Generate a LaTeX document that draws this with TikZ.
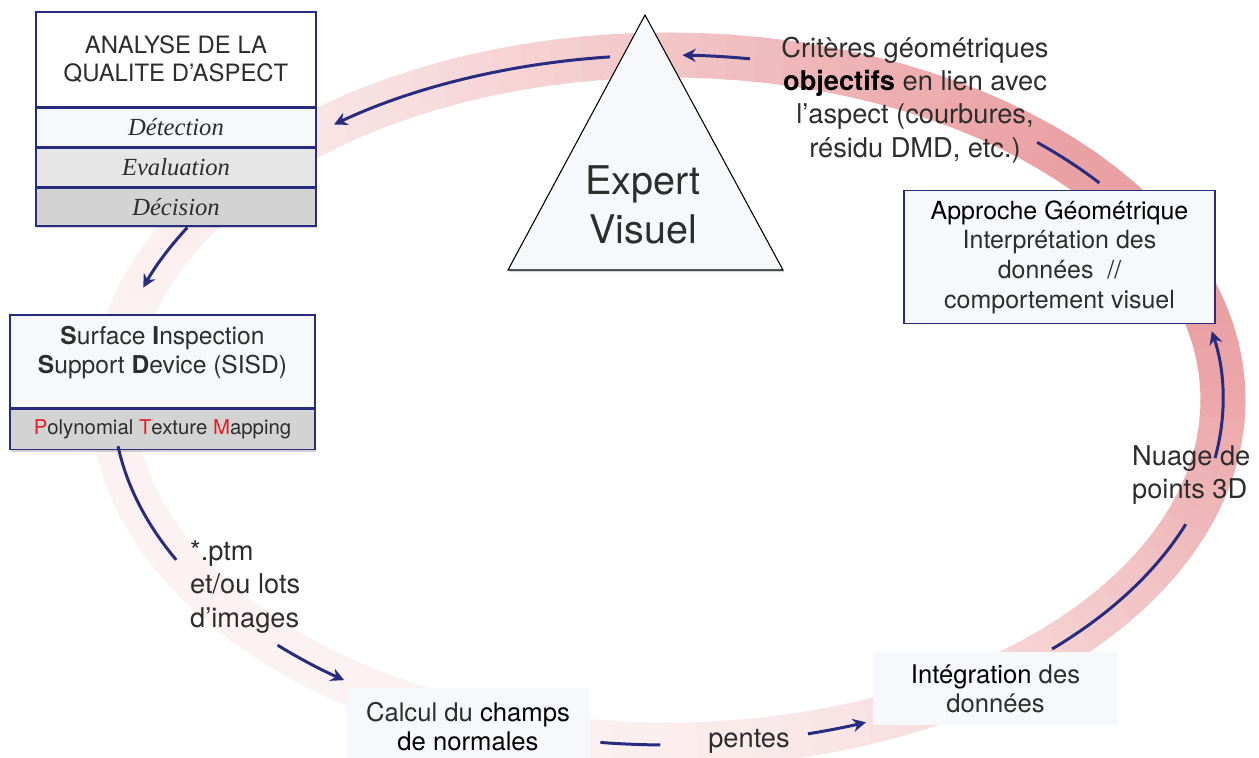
\documentclass[tikz,border=0pt]{standalone}
\usepackage{fontspec}
\setmainfont{TeX Gyre Heros}
\setsansfont{TeX Gyre Heros}
\newfontfamily\timesfont{Liberation Serif}
\usetikzlibrary{positioning,shadows,arrows.meta,calc}
\definecolor{navy}{RGB}{40,44,128}
\definecolor{ringred}{RGB}{214,70,76}
\definecolor{paleblue}{RGB}{247,248,252}
\definecolor{lightgrey}{RGB}{230,230,230}
\definecolor{midgrey}{RGB}{212,211,212}
\definecolor{ptmred}{RGB}{226,30,40}
\definecolor{inkgrey}{RGB}{45,45,45}

\begin{document}
\begin{tikzpicture}[x=0.02cm, y=-0.02cm,
declare function={
ringshade(\t)=7+46*((1+cos(\t+30))/2)^2;
},
panel/.style={draw=navy, line width=0.8pt, inner sep=0pt, align=center, text=inkgrey},
plainbox/.style={fill=paleblue, inner sep=0pt, align=center, text=inkgrey},
shadowed/.style={drop shadow={shadow xshift=0.6pt, shadow yshift=-1.2pt, opacity=0.35}},
note/.style={font=\fontsize{15.5}{19}\selectfont, text=inkgrey, align=center},
stepfont/.style={font=\timesfont\itshape\fontsize{14}{16}\selectfont},
ringarc/.style={x radius=555, y radius=345},
flow/.style={navy, line width=1.7pt, -{Stealth[length=7.5pt,width=7.5pt]}},
trail/.style={navy, line width=1.7pt},
]
\useasboundingbox (0,0) rectangle (1259,758);

% Draw the shaded ring (darker on the right, fading on the left)
\coordinate (ring) at (668,400);
\foreach \t in {0,3,...,357} {
\pgfmathtruncatemacro{\p}{ringshade(\t)}
\draw[ringred!\p!white, line width=0.9cm] ($(ring)+(\t:555 and 345)$) arc[start angle=\t, end angle=\t+3.6, ringarc];
}

% Analyse block with its three steps
\node[panel, fill=white, minimum width=5.6cm, minimum height=1.9cm, font=\fontsize{13.6}{16}\selectfont, shadowed] (analyse) at (176,59.5) {ANALYSE DE LA\\QUALITE D’ASPECT};
\node[panel, fill=paleblue, minimum width=5.6cm, minimum height=0.76cm, below=0pt of analyse, stepfont, shadowed] (detect) {Détection};
\node[panel, fill=lightgrey, minimum width=5.6cm, minimum height=0.78cm, below=0pt of detect, stepfont, shadowed] (evalu) {Evaluation};
\node[panel, fill=midgrey, minimum width=5.6cm, minimum height=0.76cm, below=0pt of evalu, stepfont, shadowed] (decide) {Décision};

% SISD block
\node[panel, fill=paleblue, minimum width=6.1cm, minimum height=1.86cm, text depth=0.45cm, font=\fontsize{14}{16.5}\selectfont, shadowed] (sisd) at (162.5,361.5) {\textbf{S}urface \textbf{I}nspection\\\textbf{S}upport \textbf{D}evice (SISD)};
\node[panel, fill=midgrey, minimum width=6.1cm, minimum height=0.8cm, below=0pt of sisd, font=\fontsize{11.6}{13}\selectfont, shadowed] (ptm) {\textcolor{ptmred}{P}olynomial \textcolor{ptmred}{T}exture \textcolor{ptmred}{M}apping};

% Expert triangle
\filldraw[fill=paleblue, draw=black, line width=0.6pt, shadowed] (645,15) -- (783,270) -- (508,270) -- cycle;
\node[font=\fontsize{22.5}{28}\selectfont, align=center, text=inkgrey] (expert) at (643,205) {Expert\\Visuel};

% Labels around the ring
\node[note] (crit) at (915,100) {Critères géométriques\\\textcolor{black}{\textbf{objectifs}} en lien avec\\l’aspect (courbures,\\résidu DMD, etc.)};
\node[panel, fill=paleblue, minimum width=6.22cm, minimum height=2.66cm, font=\fontsize{14.2}{16.9}\selectfont] (geo) at (1059.5,257) {\textcolor{black}{Approche Géométrique}\\Interprétation des\\données~ //\\comportement visuel};
\node[note, align=left, anchor=west] (nuage) at (1126,475) {Nuage de\\points 3D};
\node[note, align=left, anchor=west] (files) at (184,587) {*.ptm\\et/ou lots\\d’images};
\node[plainbox, minimum width=4.88cm, minimum height=1.54cm, font=\fontsize{14.6}{16.5}\selectfont] (normals) at (468,726.5) {Calcul du \textcolor{black}{champs}\\\textcolor{black}{de normales}};
\node[plainbox, minimum width=4.9cm, minimum height=1.46cm, font=\fontsize{14.6}{16.5}\selectfont] (integ) at (995.5,688.5) {\textcolor{black}{Intégration} des\\données};
\node[note] (pentes) at (749,741) {pentes};

% End points of the arrows on the ring
\foreach \n/\a in {a1/-81.5, b1/-39, c1/-96, d1/-150, e1/172.3, f1/134.7, g1/97, h1/75.4, i1/46.2, j1/9.7} {
\coordinate (\n) at ($(ring)+(\a:555 and 345)$);
}

% Arrows following the ring
\draw[flow] (a1) arc[start angle=-81.5, end angle=-88.5, ringarc];
\draw[trail] (b1) arc[start angle=-39, end angle=-48.3, ringarc];
\draw[flow] (c1) arc[start angle=-96, end angle=-127, ringarc];
\draw[flow] (d1) arc[start angle=-150, end angle=-161, ringarc];
\draw[trail] (e1) arc[start angle=172.3, end angle=152.4, ringarc];
\draw[flow] (f1) arc[start angle=134.7, end angle=125.7, ringarc];
\draw[trail] (g1) arc[start angle=97, end angle=90.8, ringarc];
\draw[flow] (h1) arc[start angle=75.4, end angle=69.1, ringarc];
\draw[trail] (i1) arc[start angle=46.2, end angle=21.1, ringarc];
\draw[flow] (j1) arc[start angle=9.7, end angle=-11.5, ringarc];

\end{tikzpicture}
\end{document}
